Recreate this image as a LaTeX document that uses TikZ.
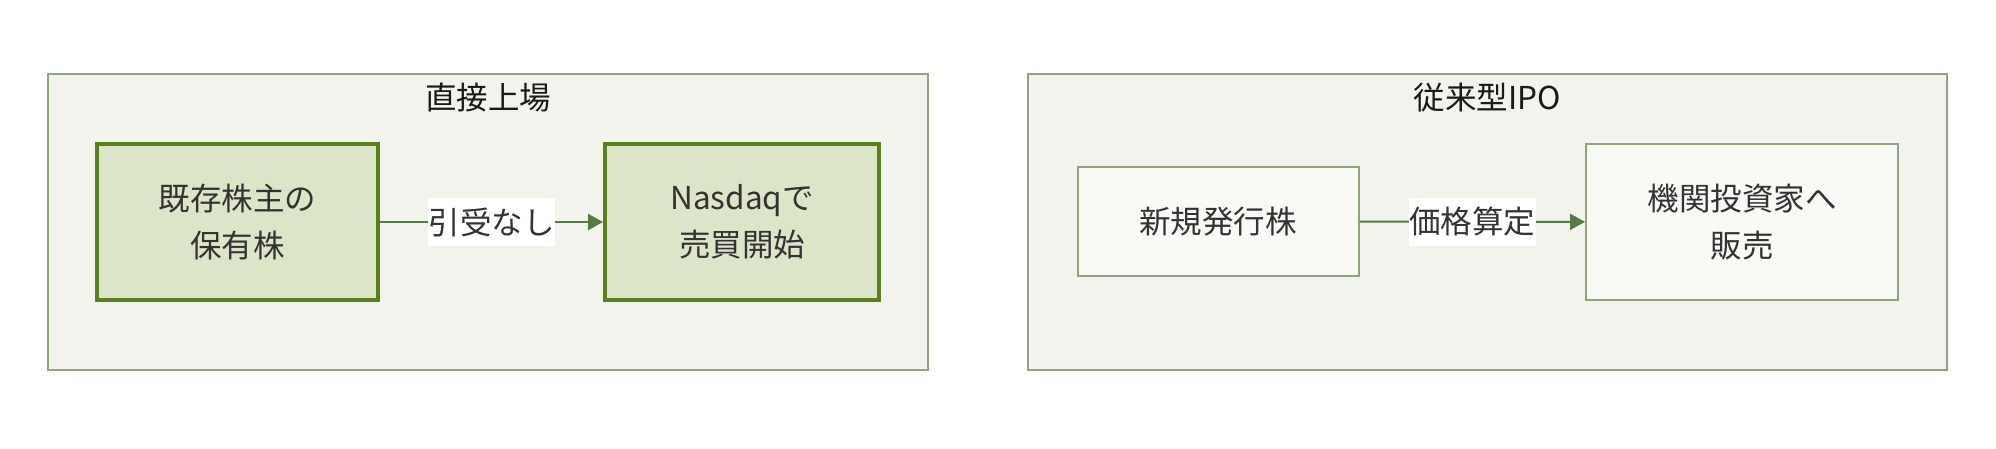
\documentclass[tikz,border=0pt]{standalone}
\usepackage{fontspec}
\setmainfont{Noto Sans CJK JP}
\usetikzlibrary{arrows.meta}
\definecolor{grpfill}{HTML}{F2F3EC}
\definecolor{grpline}{HTML}{8FA67B}
\definecolor{hifill}{HTML}{DDE5C8}
\definecolor{hiline}{HTML}{5B7F1F}
\definecolor{lofill}{HTML}{F9FAF5}
\definecolor{arrowc}{HTML}{557A46}
\definecolor{txt}{HTML}{333333}
\begin{document}
\begin{tikzpicture}[x=1pt,y=-1pt,
  group/.style={draw=grpline,fill=grpfill,line width=2pt,inner sep=0pt},
  gtitle/.style={text=black!90,font=\fontsize{31.5}{47}\selectfont,inner sep=0pt},
  hibox/.style={draw=hiline,fill=hifill,line width=4pt,inner sep=0pt,minimum height=156pt,align=center,text=txt,font=\fontsize{31.5}{47}\selectfont},
  lobox/.style={draw=grpline,fill=lofill,line width=2pt,inner sep=0pt,align=center,text=txt,font=\fontsize{31.5}{47}\selectfont},
  conn/.style={draw=arrowc,line width=2pt,-{Triangle[length=15pt,width=16pt]}},
  elabel/.style={fill=white,text=txt,inner xsep=0.5pt,inner ysep=0pt,minimum height=48pt,font=\fontsize{31.5}{47}\selectfont}
]
\useasboundingbox (0,0) rectangle (1996,448);
% left group
\node[group,minimum width=880pt,minimum height=296pt] (g1) at (488,222) {};
\node[gtitle] (t1) at (488,98) {直接上場};
\node[hibox,minimum width=281pt] (a) at (237.5,222) {既存株主の\\保有株};
\node[hibox,minimum width=274pt] (b) at (742,222) {Nasdaqで\\売買開始};
\draw[conn] (a) -- node[elabel] {引受なし} (b);
% right group
\node[group,minimum width=919pt,minimum height=296pt] (g2) at (1487.5,222) {};
\node[gtitle] (t2) at (1487.5,98) {従来型IPO};
\node[lobox,minimum width=281pt,minimum height=109pt] (c) at (1218,221.5) {新規発行株};
\node[lobox,minimum width=312pt,minimum height=156pt] (d) at (1742,222) {機関投資家へ\\販売};
\draw[conn] (c) -- node[elabel] {価格算定} (d);
\end{tikzpicture}
\end{document}
